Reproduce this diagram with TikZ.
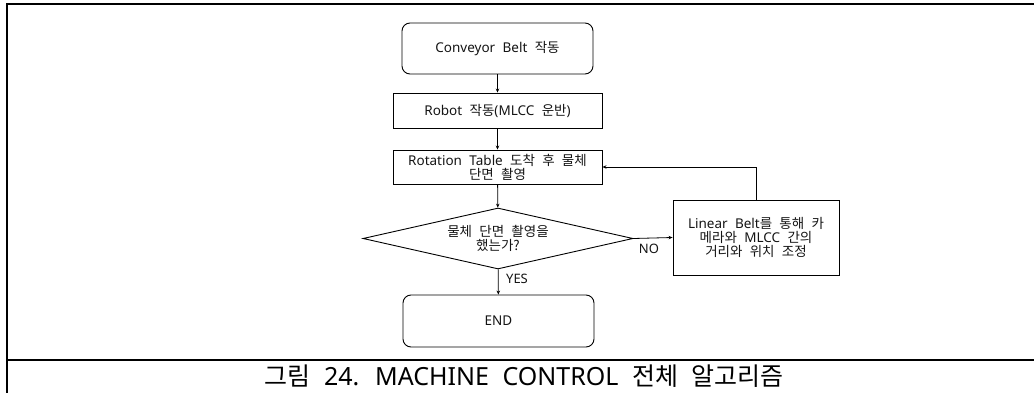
\documentclass[tikz,border=0pt]{standalone}
\usepackage{fontspec}
\setmainfont{Noto Sans}
\newfontfamily\boxfam[WordSpace=1.6]{Noto Sans}
\newfontfamily\capfam[WordSpace=2.1]{Noto Sans}
\newfontfamily\kr[WordSpace=1.8]{Noto Sans CJK KR}
\newfontfamily\krc[WordSpace=2.4]{Noto Sans CJK KR}
\usetikzlibrary{shapes.geometric,arrows.meta}
\begin{document}
\begin{tikzpicture}[x=1pt,y=-1pt,
  box/.style={draw, line width=0.9pt, inner sep=0pt, align=center, text=black!92,
    font=\boxfam\fontsize{13.5}{16}\selectfont},
  term/.style={box, rounded corners=8pt},
  flow/.style={draw, line width=0.8pt, -{Stealth[length=4pt,width=3.5pt]}},
  lab/.style={text=black!92, font=\fontsize{13}{15}\selectfont},
  frame/.style={line width=1.5pt}]
\useasboundingbox (0,0) rectangle (1034,393);
% table frame
\draw[frame] (1034,4) -- (7,4) -- (7,393);
\draw[frame] (7,360) -- (1034,360);
% nodes
\node[term, minimum width=191pt, minimum height=51pt] (conv) at (497.5,48.5) {Conveyor Belt {\kr 작동}};
\node[box, minimum width=209pt, minimum height=35pt] (robot) at (497.5,110.5) {Robot {\kr 작동}(MLCC {\kr 운반})};
\node[box, minimum width=209pt, minimum height=34pt] (rot) at (497.5,167) {Rotation Table {\kr 도착 후 물체}\\[-2pt]{\kr 단면 촬영}};
\node[box, shape=diamond, shape aspect=4.4, minimum width=270pt, minimum height=61pt] (dia) at (498,238.5) {{\kr 물체 단면 촬영을}\\[-2pt]{\kr 했는가?}};
\node[term, minimum width=191pt, minimum height=52pt] (end) at (498.5,321) {END};
\node[box, minimum width=166pt, minimum height=75pt] (lin) at (756,237.5) {Linear Belt{\kr 를 통해 카}\\[-2pt]{\kr 메라와} MLCC {\kr 간의}\\[-2pt]{\kr 거리와 위치 조정}};
% connectors
\draw[flow] (conv) -- (robot);
\draw[flow] (robot) -- (rot);
\draw[flow] (rot) -- (dia);
\draw[flow] (dia) -- (end);
\draw[flow] (dia.east) -- (lin.west);
\draw[flow] (lin.north) |- (rot.east);
% labels
\node[lab] (yes) at (517,279) {YES};
\node[lab] (no) at (649,249) {NO};
% caption
\node[font=\capfam\fontsize{25}{28}\selectfont] (cap) at (524,376) {{\krc 그림} 24. MACHINE CONTROL {\krc 전체 알고리즘}};
\end{tikzpicture}
\end{document}
